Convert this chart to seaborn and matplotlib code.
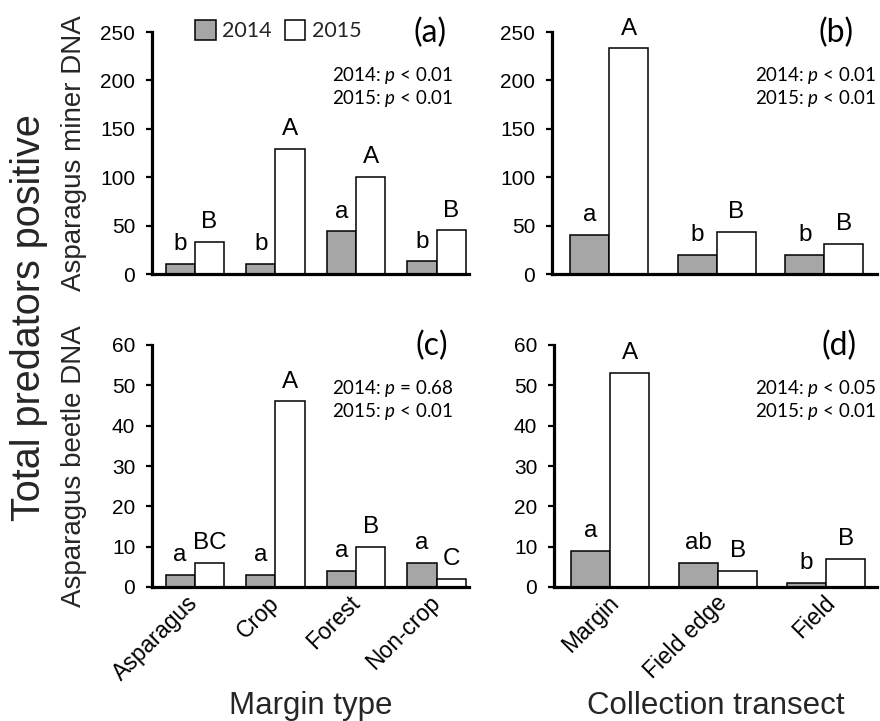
import numpy as np
import pandas as pd
import matplotlib
matplotlib.use("Agg")
import matplotlib.pyplot as plt
import matplotlib.transforms as mtransforms
from matplotlib.patches import Patch
import seaborn as sns

# ---------------- data ----------------
margin_types = ["Asparagus", "Crop", "Forest", "Non-crop"]
transects = ["Margin", "Field edge", "Field"]
years = ["2014", "2015"]

miner_margin_2014 = [10, 10, 44, 13]
miner_margin_2015 = [33, 129, 100, 45]
miner_transect_2014 = [40, 20, 20]
miner_transect_2015 = [233, 43, 31]
beetle_margin_2014 = [3, 3, 4, 6]
beetle_margin_2015 = [6, 46, 10, 2]
beetle_transect_2014 = [9, 6, 1]
beetle_transect_2015 = [53, 4, 7]

letters_a_2014 = ["b", "b", "a", "b"]
letters_a_2015 = ["B", "A", "A", "B"]
letters_b_2014 = ["a", "b", "b"]
letters_b_2015 = ["A", "B", "B"]
letters_c_2014 = ["a", "a", "a", "a"]
letters_c_2015 = ["BC", "A", "B", "C"]
letters_d_2014 = ["a", "ab", "b"]
letters_d_2015 = ["A", "B", "B"]

p_rel_a = ["<", "<"]; p_val_a = ["0.01", "0.01"]
p_rel_b = ["<", "<"]; p_val_b = ["0.01", "0.01"]
p_rel_c = ["=", "<"]; p_val_c = ["0.68", "0.01"]
p_rel_d = ["<", "<"]; p_val_d = ["0.05", "0.01"]

panel_tags = ["(a)", "(b)", "(c)", "(d)"]
miner_ticks = [0, 50, 100, 150, 200, 250]
beetle_ticks = [0, 10, 20, 30, 40, 50, 60]

# ---------------- style ----------------
sns.set_theme(style="ticks")
plt.rcParams["font.family"] = ["Liberation Sans", "DejaVu Sans"]
plt.rcParams["mathtext.fontset"] = "custom"
plt.rcParams["mathtext.rm"] = "Lato"
plt.rcParams["mathtext.it"] = "Lato:italic"

GRAY = "#a6a6a6"
palette = {"2014": GRAY, "2015": "white"}

fig = plt.figure(figsize=(8.8, 7.21), dpi=100)
W, H = 880, 721


def ax_rect(l, r, top, bot):
    return [l / W, 1 - bot / H, (r - l) / W, (bot - top) / H]


axes = [
    fig.add_axes(ax_rect(152, 469, 32, 274)),
    fig.add_axes(ax_rect(552, 877, 32, 274)),
    fig.add_axes(ax_rect(152, 469, 345, 587)),
    fig.add_axes(ax_rect(554, 877, 345, 587)),
]

panels = [
    (margin_types, miner_margin_2014, miner_margin_2015, letters_a_2014, letters_a_2015,
     p_rel_a, p_val_a, miner_ticks, (-0.53, 3.40)),
    (transects, miner_transect_2014, miner_transect_2015, letters_b_2014, letters_b_2015,
     p_rel_b, p_val_b, miner_ticks, (-0.53, 2.49)),
    (margin_types, beetle_margin_2014, beetle_margin_2015, letters_c_2014, letters_c_2015,
     p_rel_c, p_val_c, beetle_ticks, (-0.53, 3.40)),
    (transects, beetle_transect_2014, beetle_transect_2015, letters_d_2014, letters_d_2015,
     p_rel_d, p_val_d, beetle_ticks, (-0.52, 2.47)),
]

for i, (ax, (cats, v14, v15, l14, l15, prel, pval, yt, xl)) in enumerate(zip(axes, panels)):
    df = pd.DataFrame({
        "cat": cats * 2,
        "val": list(v14) + list(v15),
        "year": ["2014"] * len(cats) + ["2015"] * len(cats),
    })
    sns.barplot(data=df, x="cat", y="val", hue="year", order=cats, hue_order=years,
                palette=palette, edgecolor="black", linewidth=1.1, width=0.725,
                saturation=1, legend=False, ax=ax, errorbar=None)
    ax.set_ylim(yt[0], yt[-1])
    ax.set_yticks(yt)
    ax.set_xlim(*xl)
    for side in ["top", "right"]:
        ax.spines[side].set_visible(False)
    for side in ["left", "bottom"]:
        ax.spines[side].set_linewidth(2.3)
        ax.spines[side].set_color("black")
    ax.tick_params(axis="y", direction="out", length=4, width=1.6, pad=8,
                   labelsize=15, colors="black")
    ax.tick_params(axis="x", length=0, pad=9, labelsize=16, colors="black")
    ax.set_xlabel("")
    ax.set_ylabel("")
    if i < 2:
        ax.set_xticklabels([])
    else:
        dx = 0 if i != 3 else 5
        offset = mtransforms.ScaledTranslation(dx / 100, 0, fig.dpi_scale_trans)
        ax.set_xticks(range(len(cats)))
        ax.set_xticklabels(cats, fontsize=16.5, rotation=45, ha="right", va="center",
                           rotation_mode="anchor")
        for lab in ax.get_xticklabels():
            lab.set_transform(lab.get_transform() + offset)
    # significance letters
    for cont, letters in zip(ax.containers, [l14, l15]):
        for bar, letter in zip(cont, letters):
            x = bar.get_x() + bar.get_width() / 2
            h = bar.get_height()
            ax.annotate(letter, (x, h), xytext=(0, 10), textcoords="offset points",
                        ha="center", va="baseline", fontsize=17.5, color="black")
    # p-value text
    for yr, rel, val, yy in zip(years, prel, pval, [0.822, 0.727]):
        xr = 0.95 if i in (0, 2) else 0.997
        ax.text(xr, yy, f"{yr}: $\\mathit{{p}}$ {rel} $\\mathit{{{val}}}$",
                transform=ax.transAxes, ha="right", va="center", fontsize=13.5,
                family=["Lato", "DejaVu Sans"], color="black")
    # panel tag
    tx = [0.877, 0.874, 0.883, 0.882][i]
    ax.text(tx, 0.996, panel_tags[i], transform=ax.transAxes, ha="center", va="center",
            fontsize=23, family=["Lato", "DejaVu Sans"], color="black")

axes[0].set_ylabel("Asparagus miner DNA", fontsize=20)
axes[2].set_ylabel("Asparagus beetle DNA", fontsize=20)
for ax in (axes[0], axes[2]):
    ax.yaxis.set_label_coords(-0.206, 0.5)
axes[2].set_xlabel("Margin type", fontsize=22.5)
axes[3].set_xlabel("Collection transect", fontsize=22.5)
for ax in (axes[2], axes[3]):
    ax.xaxis.set_label_coords(0.5, -0.43)
    ax.xaxis.label.set_va("top")

fig.text(0.033, 0.559, "Total predators positive", rotation=90, ha="center", va="center",
         fontsize=28.5)

handles = [Patch(facecolor=GRAY, edgecolor="black", linewidth=1.1),
           Patch(facecolor="white", edgecolor="black", linewidth=1.1)]
fig.legend(handles, years, loc="upper left", bbox_to_anchor=(195 / W, 1 - 20 / H),
           ncol=2, frameon=False, borderaxespad=0, borderpad=0, handlelength=0.96,
           handleheight=1.05, handletextpad=0.3, columnspacing=0.6,
           prop={"family": ["Lato", "DejaVu Sans"], "size": 15.5})

fig.savefig("out.png", dpi=100)
